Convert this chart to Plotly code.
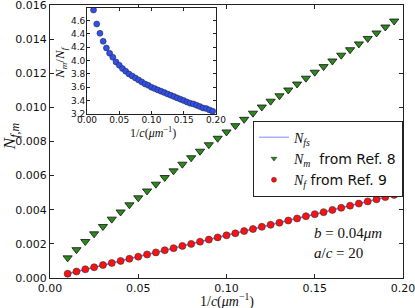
import plotly.graph_objects as go

inv_c = [0.010, 0.015, 0.020, 0.025, 0.030, 0.035, 0.040, 0.045, 0.050, 0.055,
         0.060, 0.065, 0.070, 0.075, 0.080, 0.085, 0.090, 0.095, 0.100, 0.105,
         0.110, 0.115, 0.120, 0.125, 0.130, 0.135, 0.140, 0.145, 0.150, 0.155,
         0.160, 0.165, 0.170, 0.175, 0.180, 0.185, 0.190, 0.195]

N_f = [0.00025, 0.00038, 0.00051, 0.00063, 0.00076, 0.00088, 0.00100, 0.00113, 0.00125, 0.00138,
       0.00150, 0.00163, 0.00175, 0.00188, 0.00200, 0.00213, 0.00225, 0.00238, 0.00250, 0.00262,
       0.00275, 0.00287, 0.00300, 0.00312, 0.00324, 0.00337, 0.00349, 0.00362, 0.00374, 0.00386,
       0.00399, 0.00411, 0.00424, 0.00436, 0.00449, 0.00461, 0.00474, 0.00487]

N_m = [0.00118, 0.00166, 0.00214, 0.00259, 0.00302, 0.00345, 0.00387, 0.00429, 0.00470, 0.00510,
       0.00550, 0.00589, 0.00628, 0.00667, 0.00705, 0.00743, 0.00781, 0.00819, 0.00856, 0.00893,
       0.00930, 0.00966, 0.01002, 0.01036, 0.01068, 0.01102, 0.01137, 0.01171, 0.01206, 0.01239,
       0.01272, 0.01306, 0.01338, 0.01372, 0.01404, 0.01436, 0.01471, 0.01506]

ratio = [4.76, 4.55, 4.41, 4.29, 4.19, 4.11, 4.05, 3.98, 3.93, 3.88,
         3.84, 3.80, 3.77, 3.74, 3.71, 3.68, 3.65, 3.63, 3.60, 3.58,
         3.56, 3.54, 3.52, 3.50, 3.48, 3.46, 3.44, 3.42, 3.40, 3.38,
         3.36, 3.35, 3.33, 3.31, 3.29, 3.28, 3.26, 3.24]

main_yticks = [0.000, 0.002, 0.004, 0.006, 0.008, 0.010, 0.012, 0.014, 0.016]
main_xticks = [0.00, 0.05, 0.10, 0.15, 0.20]
inset_yticks = [3.2, 3.4, 3.6, 3.8, 4.0, 4.2, 4.4, 4.6]

legend_names = ["<i>N<sub>fs</sub></i>",
                "<i>N<sub>m</sub></i><span style='font-family:DejaVu Sans'>  from Ref. 8</span>",
                "<i>N<sub>f</sub></i><span style='font-family:DejaVu Sans'> from Ref. 9</span>"]

SERIF = "Liberation Serif"
SANS = "DejaVu Sans"

LINE_C = "rgba(40,70,255,0.75)"
GREEN = "#2a8a1a"
RED = "#ff1010"

fig = go.Figure()
fig.add_trace(go.Scatter(x=inv_c, y=N_f, mode="lines",
                         line=dict(color=LINE_C, width=1.5), showlegend=False))
fig.add_trace(go.Scatter(x=inv_c, y=N_m, mode="markers",
                         marker=dict(symbol="triangle-down", size=8, color=GREEN,
                                     line=dict(color="#111", width=0.8)), showlegend=False))
fig.add_trace(go.Scatter(x=inv_c, y=N_f, mode="markers",
                         marker=dict(symbol="circle", size=7, color=RED,
                                     line=dict(color="#333", width=0.6)), showlegend=False))
fig.add_trace(go.Scatter(x=inv_c, y=ratio, mode="markers", xaxis="x2", yaxis="y2",
                         marker=dict(symbol="circle", size=6, color="#3050e8",
                                     line=dict(color="#223", width=0.5)),
                         showlegend=False))

# legend-only entries (smaller legend glyphs as in the reference)
fig.add_trace(go.Scatter(x=[None], y=[None], mode="lines", name=legend_names[0],
                         line=dict(color="rgba(100,130,255,0.6)", width=1.5)))
fig.add_trace(go.Scatter(x=[None], y=[None], mode="markers", name=legend_names[1],
                         marker=dict(symbol="triangle-down", size=5, color=GREEN,
                                     line=dict(color="#111", width=0.5))))
fig.add_trace(go.Scatter(x=[None], y=[None], mode="markers", name=legend_names[2],
                         marker=dict(symbol="circle", size=5, color=RED,
                                     line=dict(color="#333", width=0.5))))

axis_common = dict(showline=True, linecolor="#222", linewidth=1, mirror="ticks",
                   ticks="inside", ticklen=4, tickcolor="#222", showgrid=False,
                   zeroline=False, ticklabeloverflow="allow", automargin=False,
                   tickfont=dict(family=SANS, size=11, color="#111"))
inset_axis = {**axis_common, "tickfont": dict(family=SANS, size=9, color="#111"), "ticklen": 3}

fig.update_layout(
    width=415, height=308,
    margin=dict(l=50, r=12, t=5, b=30),
    paper_bgcolor="white", plot_bgcolor="white",
    xaxis=dict(range=[0, 0.2000001], tickvals=main_xticks, tickformat=".2f", domain=[0, 1], **axis_common),
    yaxis=dict(range=[0, 0.0160001], tickvals=main_yticks, tickformat=".3f", domain=[0, 1], **axis_common),
    xaxis2=dict(range=[0, 0.2000001], tickvals=main_xticks, tickformat=".2f", domain=[0.105, 0.470],
                anchor="y2", ticklabelstandoff=-3, **inset_axis),
    yaxis2=dict(range=[3.2, 4.79], tickvals=inset_yticks, tickformat=".1f", domain=[0.601, 0.989],
                anchor="x2", ticklabelstandoff=-1, **inset_axis),
    legend=dict(x=0.575, y=0.576, xanchor="left", yanchor="top",
                bordercolor="#222", borderwidth=1, bgcolor="white",
                font=dict(family=SERIF, size=14, color="#111"),
                itemsizing="trace", tracegroupgap=0, itemwidth=30),
    showlegend=True,
)

ann = dict(xref="paper", yref="paper", showarrow=False, xanchor="center", yanchor="middle")
fig.add_annotation(text="<i>N<sub>f,m</sub></i>", x=-0.11, y=0.52, textangle=-90,
                   font=dict(family=SERIF, size=17, color="#111"), **ann)
fig.add_annotation(text="1/<i>c</i>(<i>μm</i><sup>−1</sup>)", x=0.50, y=-0.082,
                   font=dict(family=SERIF, size=14, color="#111"), **ann)
fig.add_annotation(text="<i>N<sub>m</sub></i>/<i>N<sub>f</sub></i>", x=0.030, y=0.79, textangle=-90,
                   font=dict(family=SERIF, size=13, color="#111"), **ann)
fig.add_annotation(text="1/<i>c</i>(<i>μm</i><sup>−1</sup>)", x=0.292, y=0.532,
                   font=dict(family=SERIF, size=12, color="#111"), **ann)
fig.add_annotation(text="<i>b</i> = 0.04<i>μm</i><br><i>a</i>/<i>c</i> = 20", x=0.742, y=0.13,
                   xref="paper", yref="paper", showarrow=False, xanchor="left", yanchor="middle",
                   align="left", font=dict(family=SERIF, size=15, color="#111"))

fig.write_html("out.html", config={"displayModeBar": False},
               post_script="document.body.style.margin='0';document.body.style.padding='0';")
